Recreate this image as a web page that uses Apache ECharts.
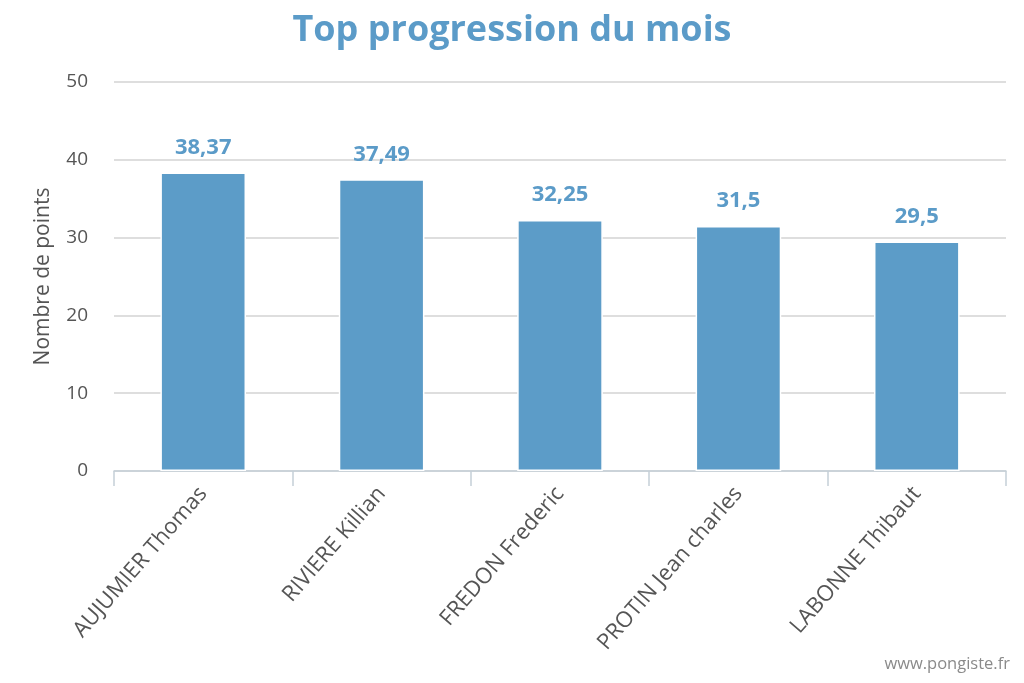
<!DOCTYPE html>
<html><head><meta charset="utf-8">
<script src="https://cdn.jsdelivr.net/npm/echarts@6/dist/echarts.min.js"></script>
<style>html,body{margin:0;padding:0;background:#fff}#c{width:1024px;height:683px}</style>
</head><body><div id="c"></div>
<script>
var categories = ["AUJUMIER Thomas", "RIVIERE Killian", "FREDON Frederic", "PROTIN Jean charles", "LABONNE Thibaut"];
var values = [38.37, 37.49, 32.25, 31.5, 29.5];
var yTicks = [0, 10, 20, 30, 40, 50];

var chart = echarts.init(document.getElementById('c'), null, {renderer: 'canvas'});
chart.setOption({
  animation: false,
  backgroundColor: '#ffffff',
  title: {
    text: 'Top progression du mois',
    left: 'center', top: 8,
    textStyle: {fontFamily: 'Open Sans', fontWeight: 'bold', fontSize: 36, color: '#5b9bc8'}
  },
  graphic: [{
    type: 'text', right: 14, top: 656,
    style: {text: 'www.pongiste.fr', fontFamily: 'Open Sans', fontSize: 16.5, fill: '#8a8a8a'}
  }],
  grid: {left: 114, right: 18, top: 82, bottom: 212, containLabel: false},
  xAxis: {
    type: 'category', data: categories,
    axisLine: {lineStyle: {color: '#c5cfd8', width: 1.5}},
    axisTick: {show: true, length: 15, alignWithLabel: false, lineStyle: {color: '#c5cfd8', width: 1.5}},
    axisLabel: {rotate: 49, interval: 0, margin: 19, fontFamily: 'Open Sans', fontSize: 22, color: '#555555'}
  },
  yAxis: {
    type: 'value', min: yTicks[0], max: yTicks[yTicks.length - 1], interval: 10,
    name: 'Nombre de points', nameLocation: 'middle', nameGap: 60, nameRotate: 90,
    nameTextStyle: {fontFamily: 'Open Sans', fontSize: 21, color: '#555555'},
    axisLine: {show: false}, axisTick: {show: false},
    splitLine: {lineStyle: {color: '#d3d3d3', width: 1.5}},
    axisLabel: {margin: 26, fontFamily: 'Open Sans', fontSize: 19, color: '#555555'}
  },
  series: [{
    type: 'bar', data: values, barWidth: '48%',
    itemStyle: {color: '#5c9cc8', borderColor: '#ffffff', borderWidth: 1.5},
    label: {
      show: true, position: 'top', distance: 14,
      fontFamily: 'Open Sans', fontWeight: 'bold', fontSize: 22, color: '#5b9bc8',
      formatter: function (p) { return String(p.value).replace('.', ','); }
    }
  }]
});
</script></body></html>
